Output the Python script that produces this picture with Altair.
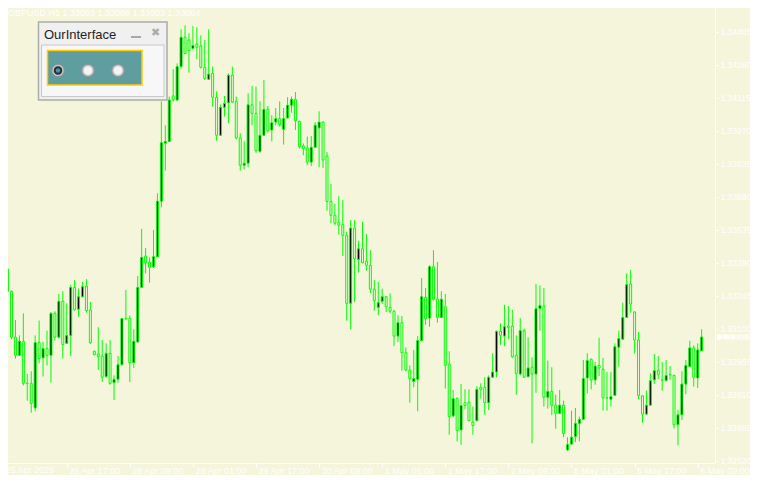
import altair as alt
import pandas as pd
import numpy as np

symbol = "GBPUSD,H1"
panel_title = "OurInterface"

opens = [1.33362,1.33265,1.33063,1.32983,1.33045,1.32860,1.32860,1.32752,1.33039,1.32972,
1.33013,1.32983,1.33168,1.33063,1.33221,1.33036,1.33071,1.33282,1.33186,1.33241,
1.33288,1.33183,1.33001,1.32989,1.32980,1.32890,1.32992,1.32863,1.32878,1.32942,
1.33145,1.33145,1.32951,1.33042,1.33282,1.33420,1.33394,1.33373,1.33417,1.33661,
1.33916,1.33924,1.34124,1.34106,1.34253,1.34382,1.34370,1.34332,1.34352,1.34344,
1.34250,1.34197,1.34223,1.34118,1.33951,1.34074,1.34094,1.34215,1.34100,1.33939,
1.33819,1.33828,1.34085,1.34047,1.33880,1.33951,1.34065,1.33974,1.34009,1.34024,
1.33977,1.34027,1.34083,1.34109,1.34012,1.33904,1.33895,1.33833,1.33898,1.33983,
1.34009,1.33860,1.33660,1.33599,1.33567,1.33558,1.33511,1.33212,1.33543,1.33405,
1.33452,1.33397,1.33379,1.33274,1.33194,1.33221,1.33241,1.33194,1.33177,1.33068,
1.33127,1.32995,1.32919,1.32869,1.32878,1.33048,1.33238,1.33147,1.33373,1.33230,
1.33150,1.33197,1.32945,1.32717,1.32793,1.32655,1.32775,1.32778,1.32690,1.32696,
1.32843,1.32843,1.32775,1.32887,1.32910,1.33089,1.33068,1.33112,1.33112,1.32983,
1.32901,1.33092,1.32889,1.32931,1.32901,1.33189,1.33200,1.32799,1.32825,1.32764,
1.32728,1.32764,1.32567,1.32593,1.32626,1.32684,1.32702,1.32884,1.32966,1.32875,
1.32939,1.32922,1.32796,1.32790,1.32807,1.33019,1.33054,1.33150,1.33297,1.33174,
1.33051,1.32805,1.32725,1.32764,1.32875,1.32916,1.32875,1.32872,1.32898,1.32895,
1.32678,1.32722,1.32857,1.32934,1.33016,1.32884,1.33003]

highs = [1.33370,1.33268,1.33139,1.33071,1.33168,1.32901,1.32913,1.33071,1.33136,1.33042,
1.33092,1.33174,1.33177,1.33253,1.33265,1.33212,1.33294,1.33315,1.33277,1.33306,
1.33318,1.33218,1.33004,1.33107,1.33051,1.33036,1.33051,1.32895,1.32980,1.33148,
1.33271,1.33159,1.33098,1.33332,1.33539,1.33455,1.33414,1.33534,1.33696,1.34100,
1.33995,1.34121,1.34241,1.34267,1.34417,1.34434,1.34399,1.34431,1.34426,1.34390,
1.34370,1.34417,1.34253,1.34144,1.34086,1.34124,1.34223,1.34253,1.34121,1.33960,
1.33924,1.34135,1.34168,1.34165,1.34100,1.34194,1.34080,1.34039,1.34071,1.34100,
1.34071,1.34118,1.34121,1.34141,1.34015,1.33915,1.33945,1.33948,1.34009,1.34056,
1.34012,1.33877,1.33737,1.33649,1.33684,1.33666,1.33526,1.33578,1.33578,1.33487,
1.33570,1.33517,1.33446,1.33315,1.33306,1.33276,1.33244,1.33256,1.33183,1.33159,
1.33156,1.33018,1.32939,1.33007,1.33068,1.33323,1.33279,1.33379,1.33446,1.33394,
1.33265,1.33253,1.33001,1.32831,1.32799,1.32857,1.32834,1.32834,1.32758,1.32848,
1.32860,1.32887,1.32895,1.32992,1.33092,1.33124,1.33206,1.33200,1.33183,1.33071,
1.33147,1.33101,1.33062,1.32974,1.33297,1.33291,1.33279,1.32960,1.32931,1.32810,
1.32831,1.32784,1.32623,1.32740,1.32752,1.32714,1.32963,1.32992,1.32969,1.32954,
1.33060,1.32972,1.32910,1.32910,1.33036,1.33092,1.33215,1.33344,1.33359,1.33177,
1.33086,1.32807,1.32828,1.32904,1.32989,1.32980,1.32954,1.32963,1.32936,1.32898,
1.32743,1.32913,1.32963,1.33048,1.33027,1.33036,1.33098]

lows = [1.33233,1.33054,1.32969,1.32980,1.32851,1.32784,1.32731,1.32737,1.32948,1.32890,
1.32939,1.32863,1.33048,1.33057,1.32969,1.33033,1.32980,1.33180,1.33153,1.33238,
1.33171,1.33033,1.32983,1.32919,1.32866,1.32884,1.32854,1.32787,1.32863,1.32939,
1.33139,1.32866,1.32928,1.33039,1.33279,1.33344,1.33303,1.33367,1.33414,1.33634,
1.33795,1.33921,1.34100,1.34100,1.34244,1.34308,1.34226,1.34329,1.34285,1.34244,
1.34194,1.34194,1.34077,1.33927,1.33948,1.34033,1.34003,1.34094,1.33933,1.33795,
1.33801,1.33810,1.33995,1.33874,1.33874,1.33948,1.33962,1.33924,1.33995,1.33989,
1.33910,1.34024,1.34050,1.33974,1.33892,1.33863,1.33819,1.33816,1.33895,1.33810,
1.33807,1.33619,1.33564,1.33555,1.33514,1.33420,1.33136,1.33098,1.33218,1.33347,
1.33388,1.33356,1.33256,1.33180,1.33159,1.33209,1.33174,1.33168,1.33024,1.33042,
1.32916,1.32913,1.32775,1.32843,1.32737,1.33045,1.33118,1.33109,1.33224,1.33127,
1.33147,1.32837,1.32634,1.32711,1.32605,1.32590,1.32746,1.32693,1.32634,1.32693,
1.32793,1.32722,1.32743,1.32884,1.32887,1.33030,1.33024,1.33054,1.32972,1.32810,
1.32895,1.32884,1.32887,1.32596,1.32819,1.33092,1.32758,1.32749,1.32720,1.32661,
1.32725,1.32623,1.32564,1.32591,1.32602,1.32605,1.32699,1.32816,1.32834,1.32854,
1.32892,1.32740,1.32740,1.32758,1.32805,1.32934,1.33051,1.33148,1.33171,1.32992,
1.32790,1.32687,1.32722,1.32761,1.32857,1.32878,1.32828,1.32869,1.32875,1.32661,
1.32588,1.32699,1.32813,1.32931,1.32846,1.32840,1.33003]

closes = [1.33265,1.33063,1.32983,1.33045,1.32860,1.32860,1.32772,1.33039,1.32969,1.33013,
1.32983,1.33168,1.33063,1.33221,1.33030,1.33071,1.33282,1.33183,1.33241,1.33285,
1.33180,1.33039,1.32986,1.32978,1.32887,1.32992,1.32860,1.32878,1.32942,1.33145,
1.33145,1.32951,1.33045,1.33282,1.33414,1.33391,1.33370,1.33417,1.33661,1.33918,
1.33924,1.34106,1.34106,1.34253,1.34382,1.34311,1.34323,1.34346,1.34338,1.34250,
1.34200,1.34220,1.34118,1.33951,1.34074,1.34091,1.34215,1.34097,1.33939,1.33819,
1.33828,1.34085,1.34047,1.33883,1.33951,1.34065,1.33971,1.34006,1.34024,1.33998,
1.34024,1.34083,1.34109,1.34015,1.33901,1.33892,1.33833,1.33898,1.33995,1.34009,
1.33842,1.33660,1.33599,1.33564,1.33555,1.33511,1.33212,1.33543,1.33408,1.33452,
1.33391,1.33379,1.33274,1.33224,1.33215,1.33241,1.33197,1.33177,1.33068,1.33127,
1.32995,1.32919,1.32881,1.32881,1.33048,1.33241,1.33145,1.33373,1.33230,1.33150,
1.33230,1.32939,1.32714,1.32793,1.32652,1.32763,1.32763,1.32696,1.32675,1.32834,
1.32834,1.32775,1.32887,1.32910,1.33089,1.33071,1.33109,1.33106,1.32977,1.32904,
1.33092,1.32887,1.32928,1.32901,1.33188,1.33203,1.32799,1.32825,1.32764,1.32728,
1.32764,1.32640,1.32591,1.32623,1.32684,1.32702,1.32881,1.32960,1.32875,1.32936,
1.32928,1.32796,1.32796,1.32802,1.33021,1.33057,1.33150,1.33294,1.33209,1.33051,
1.32807,1.32725,1.32764,1.32872,1.32916,1.32898,1.32875,1.32895,1.32898,1.32678,
1.32722,1.32857,1.32939,1.33016,1.32887,1.33007,1.33064]

tick_idx = [15, 31, 47, 63, 79, 95, 111, 127, 143, 159, 175]
tick_lbl = ["25 Apr 17:00", "28 Apr 09:00", "29 Apr 01:00", "29 Apr 17:00", "30 Apr 09:00",
            "1 May 01:00", "1 May 17:00", "2 May 09:00", "5 May 01:00", "5 May 17:00", "6 May 09:00"]
first_idx = [-1]
first_lbl = ["25 Apr 2025"]

price_ticks = [1.32520, 1.32665, 1.32810, 1.32955, 1.33100, 1.33245, 1.33390,
               1.33535, 1.33680, 1.33825, 1.33970, 1.34115, 1.34260, 1.34405]

BG = "#F5F5DC"
GREEN = "#00FF00"
FONT = "Liberation Sans"
W, H = 707, 455

df = pd.DataFrame({"k": np.arange(len(opens)), "o": opens, "h": highs, "l": lows, "c": closes})
df["dir"] = np.where(df["c"] > df["o"], "bull", "bear")
last = df.tail(1).copy()
title_df = pd.DataFrame({"t": [f"{symbol}  {opens[-1]:.5f} {highs[-1]:.5f} {lows[-1]:.5f} {closes[-1]:.5f}"]})
first_df = pd.DataFrame({"k": first_idx, "t": first_lbl})
one = pd.DataFrame({"a": [0]})

xs = alt.Scale(domain=[1.375, 178.125], nice=False, zero=False)
ys = alt.Scale(domain=[1.325099, 1.345105], nice=False, zero=False)

label_expr = " : ".join(f"datum.value == {i} ? '{t}'" for i, t in zip(tick_idx, tick_lbl)) + " : ''"

xaxis = alt.Axis(values=tick_idx, labelExpr=label_expr, orient="bottom", labelAlign="left",
                 labelOffset=2, labelPadding=6, tickSize=4, labelColor="#FFFFFF",
                 tickColor="#FFFFFF", domainColor="#FFFFFF", labelFont=FONT, labelFontSize=9,
                 grid=False, title=None, labelOverlap=False, labelBound=False, labelFlush=False,
                 labelBaseline="alphabetic")
yaxis = alt.Axis(values=price_ticks, format=".5f", orient="right", tickSize=3, labelPadding=2,
                 labelColor="#FFFFFF", tickColor="#FFFFFF", domainColor="#FFFFFF",
                 labelFont=FONT, labelFontSize=8.5, grid=False, title=None,
                 labelOverlap=False, labelBound=False, labelFlush=False)

X = alt.X("k:Q", scale=xs, axis=xaxis)

wicks = alt.Chart(df).mark_rule(color=GREEN, strokeWidth=1).encode(
    x=X, y=alt.Y("l:Q", scale=ys, axis=yaxis), y2="h:Q")

bodies = alt.Chart(df).mark_bar(width=2, stroke=GREEN, strokeWidth=1).encode(
    x=X, y=alt.Y("o:Q", scale=ys, axis=yaxis), y2="c:Q",
    color=alt.Color("dir:N", scale=alt.Scale(domain=["bull", "bear"], range=["#000000", BG]), legend=None))

box = alt.Chart(last).transform_calculate(
    top="datum.c + 0.000121", bot="datum.c - 0.000121"
).mark_rect(fill="#FFFFFF").encode(
    x=alt.value(709), x2=alt.value(742), y=alt.Y("top:Q", scale=ys, axis=yaxis), y2="bot:Q")

price_txt = alt.Chart(last).mark_text(align="left", baseline="middle", font=FONT, fontSize=8.5,
                                       color=BG).encode(
    x=alt.value(712), y=alt.Y("c:Q", scale=ys, axis=yaxis), text=alt.Text("c:Q", format=".5f"))

title_txt = alt.Chart(title_df).mark_text(align="left", baseline="alphabetic", font=FONT,
                                           fontSize=9, color="#FFFFFF").encode(
    x=alt.value(0), y=alt.value(8), text="t:N")

first_txt = alt.Chart(first_df).mark_text(align="left", baseline="alphabetic", font=FONT, fontSize=9,
                                           color="#FFFFFF", dx=2).encode(
    x=X, y=alt.value(465), text="t:N")

# dialog panel
outer = alt.Chart(one).mark_rect(fill="#F0F0F0", stroke="#ABABAB", strokeWidth=1.5).encode(
    x=alt.value(30.5), x2=alt.value(159), y=alt.value(14), y2=alt.value(92))
inner = alt.Chart(one).mark_rect(fill="#F7F7F7", stroke="#C8C8C8", strokeWidth=1).encode(
    x=alt.value(33.5), x2=alt.value(156), y=alt.value(37), y2=alt.value(88.5))
teal = alt.Chart(one).mark_rect(fill="#5F9EA0", stroke="#FFCC00", strokeWidth=1.5).encode(
    x=alt.value(39.5), x2=alt.value(134), y=alt.value(42.5), y2=alt.value(77))
ptitle = alt.Chart(one).mark_text(align="left", baseline="alphabetic", font=FONT, fontSize=13,
                                   color="#1E1E1E", text=panel_title).encode(
    x=alt.value(36), y=alt.value(31))
minim = alt.Chart(one).mark_rule(color="#A8A8A8", strokeWidth=2).encode(
    x=alt.value(123), x2=alt.value(133), y=alt.value(29))
closeg = alt.Chart(one).mark_text(align="center", baseline="middle", font="DejaVu Sans",
                                   fontSize=11, color="#ABABAB", text="✖").encode(
    x=alt.value(147.5), y=alt.value(25))


def radio(xp, selected):
    layers = [
        alt.Chart(one).mark_point(shape="circle", filled=True, fill="#C8C8C8", stroke="#959595",
                                  strokeWidth=1, size=150, opacity=1).encode(
            x=alt.value(xp), y=alt.value(62.5)),
    ]
    if selected:
        layers.append(alt.Chart(one).mark_point(shape="circle", filled=True, fill="#1F2F35",
                                                size=72, opacity=1).encode(
            x=alt.value(xp), y=alt.value(62.5)))
        layers.append(alt.Chart(one).mark_point(shape="circle", filled=True, fill="#4F8EA3",
                                                size=22, opacity=1).encode(
            x=alt.value(xp), y=alt.value(62.5)))
    else:
        layers.append(alt.Chart(one).mark_point(shape="circle", filled=True, fill="#F4F4F4",
                                                size=72, opacity=1).encode(
            x=alt.value(xp), y=alt.value(62.5)))
    return layers


radios = radio(50, True) + radio(80, False) + radio(110, False)

chart = alt.layer(
    wicks, bodies, box, price_txt, title_txt, first_txt,
    outer, inner, teal, ptitle, minim, closeg, *radios
).properties(
    width=W, height=H,
    padding={"left": 0, "top": 0, "right": 35, "bottom": 12},
    autosize=alt.AutoSizeParams(type="none"),
    background=BG,
).configure_view(stroke=None)

chart.save("out.html", embed_options={"renderer": "svg", "actions": False})
